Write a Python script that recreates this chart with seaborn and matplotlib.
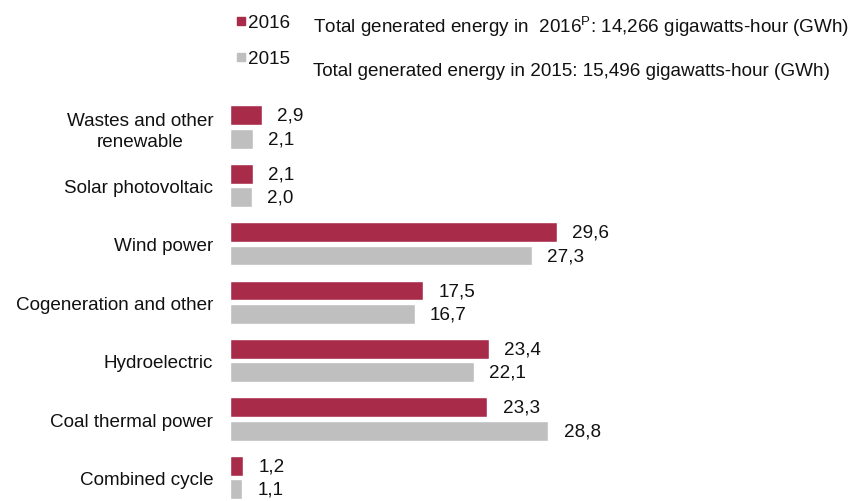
import matplotlib
matplotlib.use("Agg")
import matplotlib.pyplot as plt
from matplotlib.lines import Line2D
import seaborn as sns
import pandas as pd

categories = ["Wastes and other\nrenewable", "Solar photovoltaic", "Wind power",
              "Cogeneration and other", "Hydroelectric", "Coal thermal power",
              "Combined cycle"]
share_2016 = [2.9, 2.1, 29.6, 17.5, 23.4, 23.3, 1.2]
share_2015 = [2.1, 2.0, 27.3, 16.7, 22.1, 28.8, 1.1]
years = ["2016", "2015"]
colors = {"2016": "#A82C4A", "2015": "#BFBFBF"}

df = pd.DataFrame({
    "source": categories * 2,
    "share": share_2016 + share_2015,
    "year": [years[0]] * len(categories) + [years[1]] * len(categories),
})

sns.set_theme(style="white")
plt.rcParams["font.family"] = ["Liberation Sans", "DejaVu Sans"]
plt.rcParams["mathtext.fontset"] = "custom"
plt.rcParams["mathtext.rm"] = "Liberation Sans"

FS = 13.6
TXT = "#111111"
W, H = 854, 502
fig = plt.figure(figsize=(W / 100, H / 100), dpi=100)
ax_left, ax_top = 230, 95
ax = fig.add_axes([ax_left / W, 0, (W - ax_left) / W, (H - ax_top) / H])

sns.barplot(data=df, y="source", x="share", hue="year", palette=colors,
            order=categories, hue_order=years, orient="h", saturation=1,
            width=0.8, gap=0.15, legend=False, ax=ax)

px_per_unit = 11.05
ax.set_xlim(0, (W - ax_left) / px_per_unit)
row = 58.4
ax.set_ylim(6 + (H - 478.5) / row, -(128 - ax_top) / row)

for side in ax.spines.values():
    side.set_visible(False)
ax.set_xticks([])
ax.set_xlabel("")
ax.set_ylabel("")
ax.tick_params(axis="y", length=0, pad=12, labelsize=FS, colors=TXT)
for lbl in ax.get_yticklabels():
    lbl.set_multialignment("center")
    lbl.set_linespacing(1.3)

for container in ax.containers:
    ax.bar_label(container, labels=[f"{v:.1f}".replace(".", ",") for v in container.datavalues],
                 padding=11, fontsize=FS, color=TXT)

handles = [Line2D([], [], marker="s", linestyle="none", markersize=6,
                  markerfacecolor=colors[y], markeredgecolor=colors[y]) for y in years]
fig.legend(handles, years, loc="upper left", bbox_to_anchor=(236 / W, 1 - 15 / H),
           frameon=False, fontsize=FS, handlelength=0.5, handletextpad=0.13,
           labelspacing=1.0, borderpad=0, borderaxespad=0, labelcolor=TXT)

fig.text(313 / W, 1 - 27 / H,
         "Total generated energy in  2016$^{\\mathrm{P}}$: 14,266 gigawatts-hour (GWh)",
         fontsize=FS, va="center", ha="left", color=TXT)
fig.text(313 / W, 1 - 72 / H,
         "Total generated energy in 2015: 15,496 gigawatts-hour (GWh)",
         fontsize=FS, va="center", ha="left", color=TXT)

fig.savefig("out.png", dpi=100)
